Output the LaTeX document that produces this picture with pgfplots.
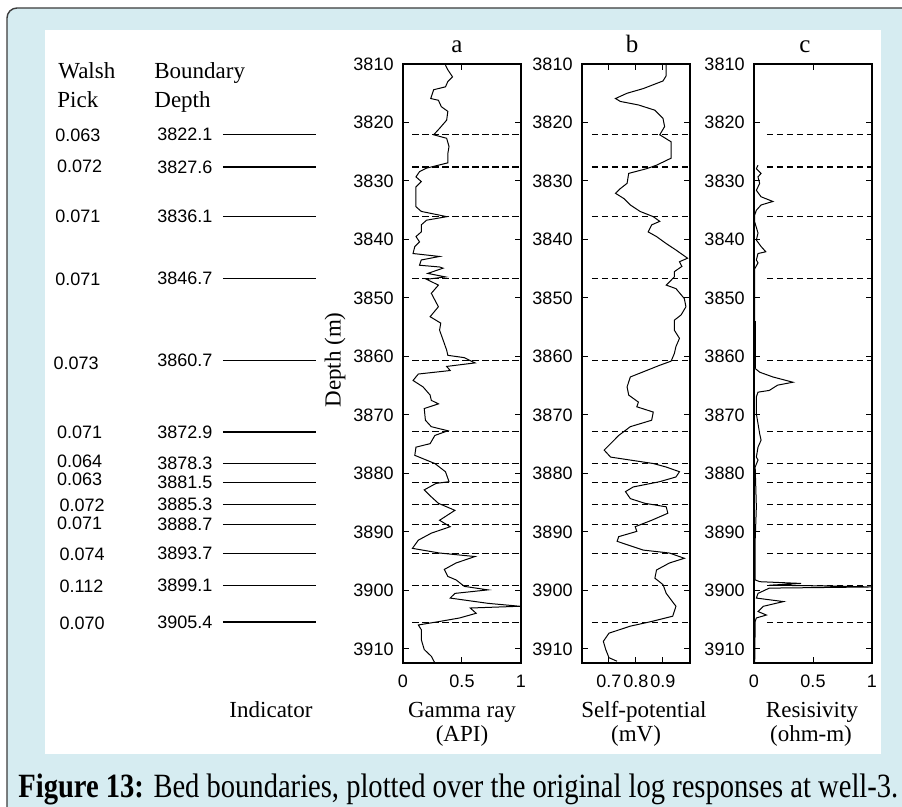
\documentclass[border=0pt]{standalone}
\usepackage{fontspec}
\setmainfont{Liberation Serif}
\setsansfont{Liberation Sans}
\usepackage{graphicx}
\usepackage{pgfplots}
\pgfplotsset{compat=1.18}

\definecolor{framebg}{RGB}{214,236,241}
\definecolor{frameedge}{RGB}{60,60,60}

\pgfplotsset{
  logax/.style={
    scale only axis, height=299.5pt, anchor=north west,
    y dir=reverse, ymin=3810, ymax=3912.4,
    ytick={3810,3820,3830,3840,3850,3860,3870,3880,3890,3900,3910},
    tick align=inside, major tick length=3pt,
    axis line style={line width=0.6pt},
    every tick/.append style={line width=0.5pt, black},
    tick label style={font=\sffamily\fontsize{9}{10}\selectfont},
    xticklabel style={yshift=-2.5pt},
    yticklabel style={xshift=-1.2pt},
    /pgf/number format/assume math mode=true,
    /pgf/number format/1000 sep={},
  },
  logline/.style={black, line width=0.5pt, mark=none},
  bnd/.style={black, line width=0.55pt, dash pattern=on 3.2pt off 1.8pt, mark=none},
}
\tikzset{
  lbl/.style={font=\fontsize{11.5}{12}\selectfont, inner sep=0pt},
  snum/.style={font=\sffamily\fontsize{9}{10}\selectfont, inner sep=0pt, anchor=west},
}

\begin{document}
\begin{tikzpicture}[x=0.5pt, y=-0.5pt]
\useasboundingbox (0,0) rectangle (902,807);
\clip (0,0) rectangle (902,807);
\draw[fill=framebg, draw=frameedge, line width=0.7pt, rounded corners=5pt] (7,8) rectangle (940,840);
\fill[white] (45,30) rectangle (881,754);

\coordinate (Lpos) at (45,64);
\coordinate (Apos) at (403,64);
\coordinate (Bpos) at (582,64);
\coordinate (Cpos) at (754,64);

% headers of the left columns
\node[lbl, anchor=base west] at (58,79) {Walsh};
\node[lbl, anchor=base west] at (57,108) {Pick};
\node[lbl, anchor=base west] at (154,79) {Boundary};
\node[lbl, anchor=base west] at (154,108) {Depth};

% left columns: Walsh pick, boundary depth, indicator line
\begin{axis}[at={(Lpos)}, anchor=north west, scale only axis,
  width=142.5pt, height=299.5pt, xmin=45, xmax=330,
  y dir=reverse, ymin=3810, ymax=3912.4,
  axis lines=none, xtick=\empty, ytick=\empty, clip=false]
\foreach \d/\p/\wx/\wy in {
  3822.1/0.063/55/3822.25, 3827.6/0.072/56.7/3827.55, 3836.1/0.071/55/3836.1,
  3846.7/0.071/55/3846.8, 3860.7/0.073/53.3/3861.2, 3872.9/0.071/56.7/3872.95,
  3878.3/0.064/56.7/3877.98, 3881.5/0.063/56.7/3881.0, 3885.3/0.072/59.3/3885.5,
  3888.7/0.071/56.7/3888.5, 3893.7/0.074/59.3/3893.9, 3899.1/0.112/59.3/3899.35,
  3905.4/0.070/59.3/3905.6}{
  \edef\tmp{
    \noexpand\node[snum] at (axis cs:\wx,\wy) {\p};
    \noexpand\node[snum] at (axis cs:157,\d) {\d};
    \noexpand\addplot[black, line width=0.6pt, mark=none] coordinates {(223,\d) (316,\d)};
  }\tmp
}
\end{axis}

% a: gamma ray
\begin{axis}[logax, at={(Apos)}, width=59pt, xmin=0, xmax=1, xtick={0,0.5,1}]
\addplot[logline] coordinates {
(0.36,3810.2) (0.38,3811.0) (0.42,3812.2) (0.38,3813.0) (0.36,3813.9) (0.26,3814.4)
(0.235,3815.9) (0.30,3816.2) (0.325,3817.3) (0.38,3818.1) (0.37,3819.6) (0.31,3821.0)
(0.26,3822.1) (0.37,3822.7) (0.39,3824.1) (0.38,3825.3) (0.38,3826.9) (0.30,3827.3)
(0.20,3827.8) (0.14,3828.4) (0.11,3829.3) (0.155,3830.1) (0.11,3831.0) (0.11,3832.7)
(0.11,3834.4) (0.155,3835.2) (0.30,3835.8) (0.37,3836.1) (0.20,3836.7) (0.155,3837.5)
(0.155,3838.7) (0.11,3839.5) (0.14,3840.4) (0.10,3841.2) (0.085,3842.4) (0.31,3842.9)
(0.155,3843.5) (0.14,3844.4) (0.31,3844.7) (0.34,3844.9) (0.21,3845.8) (0.36,3846.4)
(0.20,3846.8) (0.30,3847.8) (0.24,3849.2) (0.30,3851.5) (0.23,3853.2) (0.32,3854.3)
(0.31,3855.5) (0.34,3857.2) (0.37,3858.9) (0.38,3859.8) (0.52,3860.2) (0.61,3861.1)
(0.37,3861.7) (0.40,3862.4) (0.13,3863.0) (0.085,3864.1) (0.17,3865.2) (0.23,3866.6)
(0.24,3867.5) (0.30,3868.1) (0.18,3868.9) (0.19,3870.9) (0.24,3872.0) (0.38,3872.7)
(0.27,3873.5) (0.23,3874.9) (0.11,3875.5) (0.10,3876.9) (0.27,3878.3) (0.36,3879.7)
(0.39,3881.4) (0.28,3881.7) (0.18,3882.8) (0.24,3884.0) (0.30,3885.1) (0.44,3886.3)
(0.31,3888.0) (0.40,3889.1) (0.24,3890.2) (0.13,3891.4) (0.08,3892.8) (0.31,3893.6)
(0.61,3894.2) (0.45,3895.3) (0.35,3896.4) (0.38,3897.6) (0.45,3898.2) (0.52,3899.3)
(0.72,3899.9) (0.44,3900.5) (0.40,3901.3) (0.72,3902.2) (0.99,3902.7) (0.57,3903.0)
(0.62,3903.9) (0.48,3904.7) (0.31,3905.3) (0.13,3905.9) (0.155,3906.7) (0.155,3908.4)
(0.18,3910.1) (0.24,3911.25) (0.27,3912.4)};
\pgfplotsinvokeforeach{3822.1,3827.6,3836.1,3846.7,3860.7,3872.9,3878.3,3881.5,3885.3,3888.7,3893.7,3899.1,3905.4}{
  \addplot[bnd] coordinates {(0.08,#1) (1,#1)};
}
\end{axis}

% b: self-potential
\begin{axis}[logax, at={(Bpos)}, width=54pt, xmin=0.6, xmax=1.0, xtick={0.7,0.8,0.9}]
\addplot[logline] coordinates {
(0.912,3810.2) (0.912,3812.0) (0.90,3812.9) (0.827,3814.2) (0.767,3815.0) (0.724,3815.9)
(0.742,3816.4) (0.809,3817.0) (0.87,3817.9) (0.90,3819.3) (0.906,3820.7) (0.888,3822.1)
(0.93,3823.3) (0.93,3826.1) (0.876,3827.3) (0.839,3827.9) (0.773,3828.7) (0.767,3830.4)
(0.742,3831.3) (0.724,3832.1) (0.755,3833.0) (0.779,3834.1) (0.815,3835.2) (0.864,3836.1)
(0.888,3836.9) (0.858,3837.5) (0.845,3838.7) (0.876,3839.5) (0.912,3840.7) (0.948,3841.8)
(0.991,3843.2) (0.961,3843.8) (0.97,3844.6) (0.942,3845.5) (0.942,3846.4) (0.912,3847.8)
(0.948,3848.4) (0.979,3850.1) (0.985,3851.5) (0.967,3852.9) (0.942,3853.8) (0.942,3855.5)
(0.961,3856.9) (0.948,3858.3) (0.942,3859.5) (0.93,3860.8) (0.888,3861.5) (0.839,3862.4)
(0.779,3863.5) (0.767,3865.2) (0.773,3866.6) (0.809,3867.8) (0.803,3868.6) (0.864,3869.5)
(0.858,3870.9) (0.779,3872.0) (0.736,3873.5) (0.706,3874.9) (0.682,3876.0) (0.706,3877.2)
(0.864,3878.3) (0.912,3878.9) (0.961,3879.7) (0.948,3880.6) (0.888,3881.4) (0.79,3882.3)
(0.761,3883.1) (0.779,3884.3) (0.833,3885.1) (0.912,3885.7) (0.918,3886.8) (0.858,3888.0)
(0.797,3889.1) (0.803,3889.9) (0.736,3890.8) (0.73,3891.6) (0.827,3893.1) (0.924,3893.6)
(0.979,3894.5) (0.924,3895.3) (0.876,3896.5) (0.87,3897.9) (0.90,3899.0) (0.912,3900.5)
(0.948,3902.7) (0.936,3904.4) (0.858,3905.3) (0.779,3906.1) (0.70,3907.3) (0.679,3908.7)
(0.688,3910.1) (0.70,3911.5) (0.73,3912.1)};
\pgfplotsinvokeforeach{3822.1,3827.6,3836.1,3846.7,3860.7,3872.9,3878.3,3881.5,3885.3,3888.7,3893.7,3899.1,3905.4}{
  \addplot[bnd] coordinates {(0.637,#1) (1,#1)};
}
\end{axis}

% c: resistivity
\begin{axis}[logax, at={(Cpos)}, width=59pt, xmin=0, xmax=1, xtick={0,0.5,1}]
\addplot[logline] coordinates {
(0.034,3827.3) (0.02,3827.9) (0.06,3828.7) (0.034,3829.3) (0.048,3830.4) (0.02,3831.6)
(0.06,3832.7) (0.16,3833.5) (0.06,3834.1) (0.02,3835.0) (0.006,3835.8) (0.006,3837.0)
(0.034,3838.9) (0.02,3840.1) (0.06,3841.2) (0.10,3842.1) (0.034,3842.4) (0.02,3843.5)
(0.034,3844.0) (0.006,3845.0) (0.006,3862.0) (0.05,3862.7) (0.16,3863.5) (0.33,3864.4)
(0.20,3864.9) (0.13,3865.8) (0.034,3866.1) (0.02,3866.9) (0.02,3869.8) (0.048,3873.2)
(0.06,3874.3) (0.034,3875.5) (0.02,3877.2) (0.034,3877.7) (0.01,3878.9) (0.02,3885.7)
(0.01,3891.4) (0.01,3898.2) (0.05,3898.5) (0.40,3898.8) (0.13,3899.1) (0.70,3899.25)
(1.0,3899.4) (0.13,3899.6) (0.034,3900.5) (0.02,3901.3) (0.25,3901.9) (0.08,3902.7)
(0.034,3903.6) (0.105,3904.2) (0.02,3904.7) (0.01,3905.3) (0.006,3912.4)};
\addplot[black, line width=1.2pt, mark=none] coordinates {(0.008,3854) (0.008,3862)};
\pgfplotsinvokeforeach{3822.1,3827.6,3836.1,3846.7,3860.7,3872.9,3878.3,3881.5,3885.3,3888.7,3893.7,3899.1,3905.4}{
  \addplot[bnd] coordinates {(0.11,#1) (1,#1)};
}
\end{axis}

% panel titles and labels
\node[font=\fontsize{12.5}{13}\selectfont, anchor=base, inner sep=0pt] at (457,53) {a};
\node[font=\fontsize{12.5}{13}\selectfont, anchor=base, inner sep=0pt] at (632,53) {b};
\node[font=\fontsize{12.5}{13}\selectfont, anchor=base, inner sep=0pt] at (805,53) {c};
\node[lbl, rotate=90] at (335,360) {Depth (m)};
\node[lbl, anchor=base] at (271,718) {Indicator};
\node[lbl, anchor=base] at (462,718) {Gamma ray};
\node[lbl, anchor=base] at (462,742) {(API)};
\node[lbl, anchor=base] at (644,718) {Self-potential};
\node[lbl, anchor=base] at (636,742) {(mV)};
\node[lbl, anchor=base] at (812,718) {Resisivity};
\node[lbl, anchor=base] at (811,742) {(ohm-m)};

% caption
\node[anchor=base west, inner sep=0pt] at (18,798) {\scalebox{0.84}[1]{\fontsize{17}{17}\selectfont\textbf{Figure 13:} Bed boundaries, plotted over the original log responses at well-3.}};
\end{tikzpicture}
\end{document}
